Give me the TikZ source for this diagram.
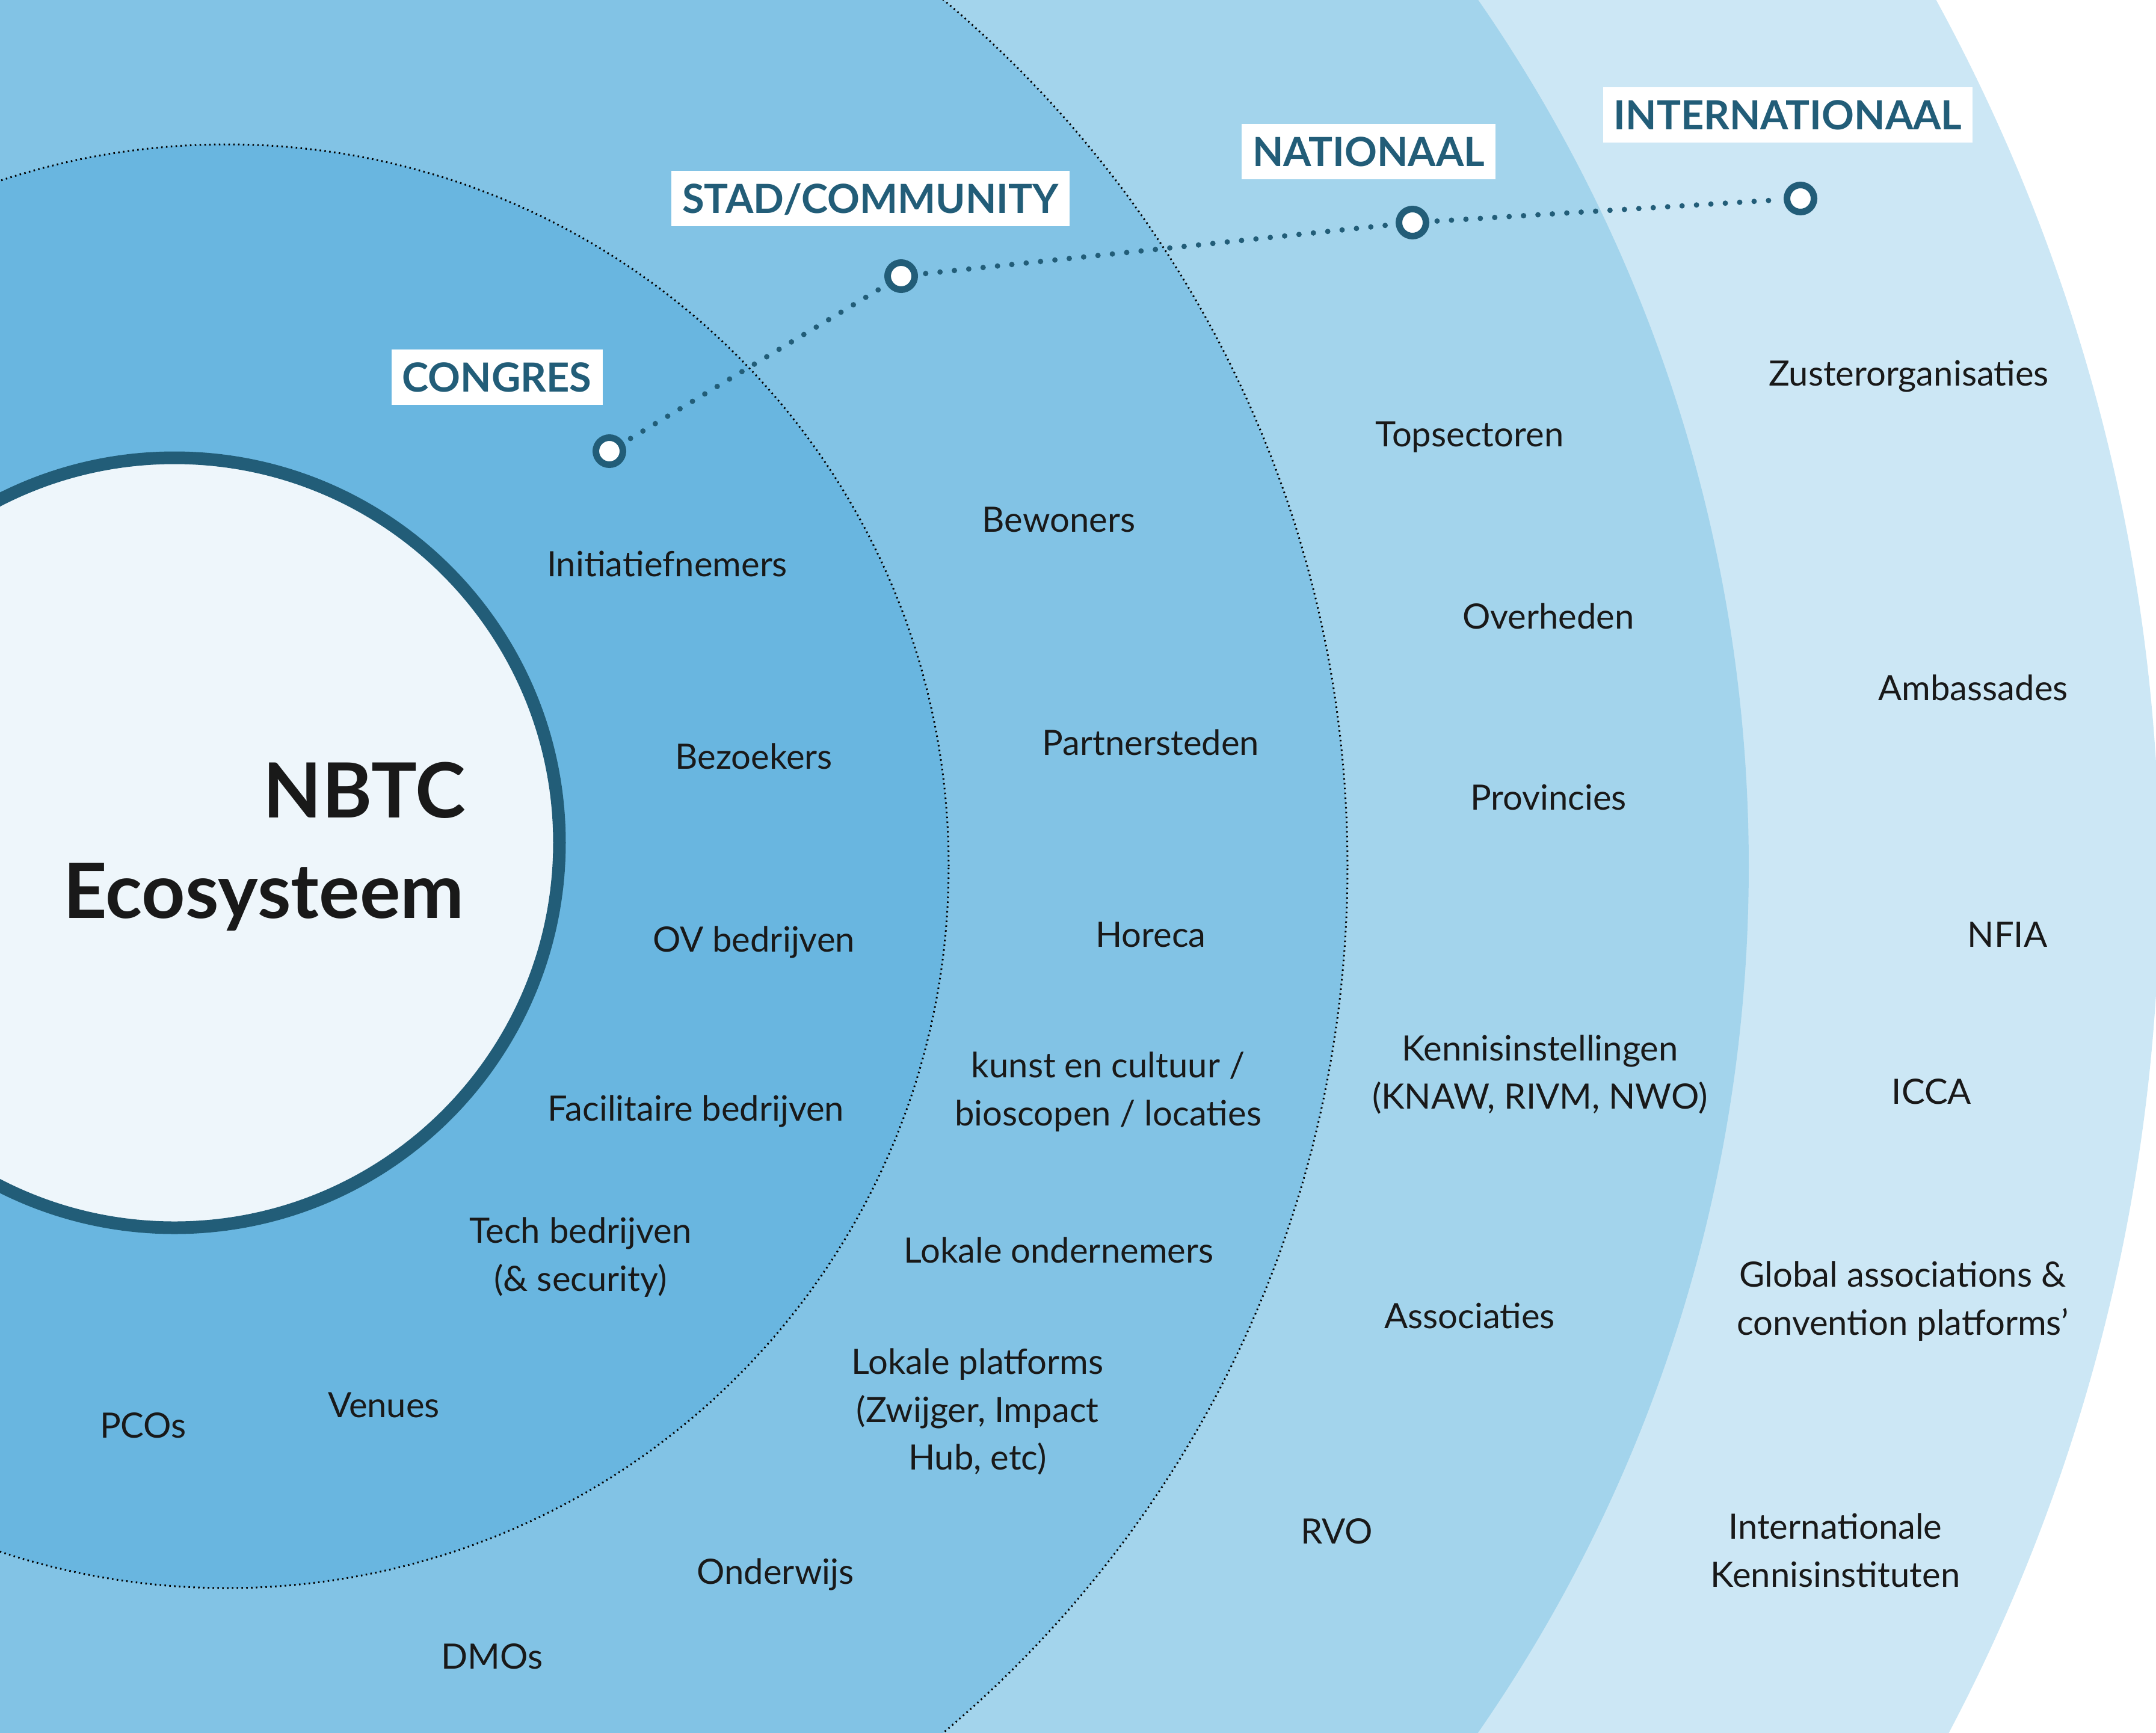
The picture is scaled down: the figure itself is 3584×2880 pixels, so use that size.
\documentclass[tikz,border=0pt]{standalone}
\usepackage{fontspec}
\setmainfont{Lato}
\usepackage{tikz}
\usepackage{xcolor}
\definecolor{nbtcDark}{HTML}{225D78}
\definecolor{nbtcCore}{HTML}{EEF6FB}
\definecolor{ringCongres}{HTML}{69B6E0}
\definecolor{ringStad}{HTML}{82C3E5}
\definecolor{ringNationaal}{HTML}{A3D4EC}
\definecolor{ringInternationaal}{HTML}{CCE7F5}
\tikzset{
  actorText/.style={align=center, inner sep=0pt, text=black!90, font=\fontsize{16.5}{22.7}\selectfont},
  titleText/.style={anchor=base east, inner sep=0pt, text=black!90, font=\fontsize{36}{40}\selectfont\bfseries},
  levelLabel/.style={shape=rectangle, fill=white, text=nbtcDark, inner xsep=1.8mm, inner ysep=2.15mm, text height=4.85mm, text depth=0mm, font=\fontsize{19}{22}\selectfont\bfseries},
  levelDot/.style={circle, draw=nbtcDark, fill=white, line width=1.1mm, inner sep=0pt, minimum size=4.5mm},
  traceLink/.style={draw=nbtcDark, line width=0.9mm, line cap=round, dash pattern=on 0pt off 2.4mm, shorten <=1.3mm, shorten >=1.3mm},
  ringBorder/.style={draw=black, line width=0.3mm, dash pattern=on 0.25mm off 0.55mm}
}

\begin{document}
\begin{tikzpicture}[x=0.1mm, y=-0.1mm]
    \useasboundingbox (0,0) rectangle (3584,2880);
    \clip (0,0) rectangle (3584,2880);
    \fill[white] (0,0) rectangle (3584,2880);

    % rings, outside in
    \fill[ringInternationaal] (540,1460) circle[radius=305mm];
    \fill[ringNationaal] (378,1440) circle[radius=252.9mm];
    \path[fill=ringStad, ringBorder] (360,1440) circle[radius=188mm];
    \path[fill=ringCongres, ringBorder] (377,1440) circle[radius=120mm];
    \filldraw[fill=nbtcCore, draw=nbtcDark, line width=2.1mm] (290,1401) circle[radius=64mm];

    \node (nbtc) [titleText] at (775,1359) {NBTC};
    \node (eco) [titleText] at (772,1526) {Ecosysteem};

    % congres
    \node (initiatief) [actorText] at (1109,937) {Initiatiefnemers};
    \node (bezoekers) [actorText] at (1253,1257) {Bezoekers};
    \node (ov) [actorText] at (1253,1566) {OV bedrijven};
    \node (facilitair) [actorText] at (1157,1847) {Facilitaire bedrijven};
    \node (tech) [actorText] at (965,2090) {Tech bedrijven\\(\& security)};
    \node (venues) [actorText] at (638,2336) {Venues};
    \node (pcos) [actorText] at (238,2370) {PCOs};

    % stad/community
    \node (bewoners) [actorText] at (1760,864) {Bewoners};
    \node (partner) [actorText] at (1913,1234) {Partnersteden};
    \node (horeca) [actorText] at (1913,1554) {Horeca};
    \node (kunst) [actorText] at (1842,1815) {kunst en cultuur /\\bioscopen / locaties};
    \node (lokaleOnd) [actorText] at (1760,2078) {Lokale ondernemers};
    \node (lokalePl) [actorText] at (1625,2347) {Lokale platforms\\(Zwijger, Impact\\Hub, etc)};
    \node (onderwijs) [actorText] at (1289,2617) {Onderwijs};
    \node (dmos) [actorText] at (818,2754) {DMOs};

    % nationaal
    \node (topsectoren) [actorText] at (2443,727) {Topsectoren};
    \node (overheden) [actorText] at (2574,1024) {Overheden};
    \node (provincies) [actorText] at (2574,1326) {Provincies};
    \node (kennis) [actorText] at (2560,1786) {Kennisinstellingen\\(KNAW, RIVM, NWO)};
    \node (associaties) [actorText] at (2443,2187) {Associaties};
    \node (rvo) [actorText] at (2222,2546) {RVO};

    % internationaal
    \node (zuster) [actorText] at (3173,626) {Zusterorganisaties};
    \node (ambassades) [actorText] at (3280,1143) {Ambassades};
    \node (nfia) [actorText] at (3337,1554) {NFIA};
    \node (icca) [actorText] at (3211,1815) {ICCA};
    \node (global) [actorText] at (3163,2163) {Global associations \&\\convention platforms’};
    \node (intKennis) [actorText] at (3051,2577) {Internationale\\Kennisinstituten};

    % level markers
    \node (dotCongres) [levelDot] at (1013,750) {};
    \node (dotStad) [levelDot] at (1498,459) {};
    \node (dotNationaal) [levelDot] at (2348,370) {};
    \node (dotInternationaal) [levelDot] at (2993,330) {};

    \path
    (dotCongres) edge [traceLink] (dotStad)
    (dotStad) edge [traceLink] (dotNationaal)
    (dotNationaal) edge [traceLink] (dotInternationaal);

    \node (congres) [levelLabel] at (826,627) {CONGRES};
    \node (stad) [levelLabel] at (1447,330) {STAD/COMMUNITY};
    \node (nationaal) [levelLabel] at (2275,252) {NATIONAAL};
    \node (internationaal) [levelLabel] at (2972,191) {INTERNATIONAAL};

\end{tikzpicture}
\end{document}
